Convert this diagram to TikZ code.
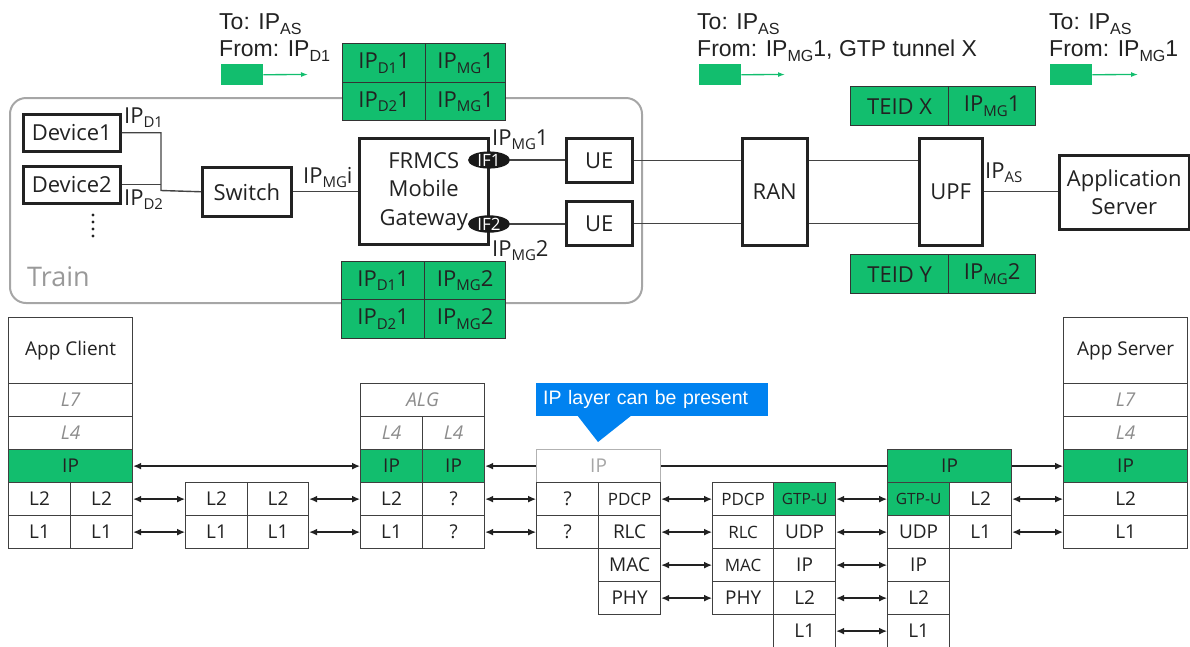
\documentclass[tikz,border=0pt]{standalone}
\usepackage{fontspec}
\usepackage{graphicx}
\setmainfont{Open Sans}
\newfontfamily\arialf{Liberation Sans}
\usetikzlibrary{arrows.meta,shapes.geometric,backgrounds}
\definecolor{egreen}{RGB}{18,190,110}
\definecolor{eblue}{RGB}{0,130,240}
\definecolor{txt}{RGB}{34,34,34}
\newcommand\lo[1]{\raisebox{-0.22em}{\scalebox{0.68}{#1}}}
\newcommand\loa[1]{\raisebox{-0.22em}{\scalebox{0.7}{#1}}}
\newcommand\fTop{\arialf\fontsize{23}{26}\selectfont}
\newcommand\fBox{\fontsize{22}{28.5}\selectfont}
\newcommand\fSt{\fontsize{19}{22}\selectfont}
\newcommand\fSm{\fontsize{17}{20}\selectfont}
\newcommand\fGt{\fontsize{15.5}{18}\selectfont}
\tikzset{
  box/.style={draw=txt, line width=2.5pt, fill=white, text=txt, font=\fBox, align=center, inner sep=0pt, anchor=north west},
  cell/.style={draw=black!75, line width=1.2pt, fill=white, text=txt, font=\fSt, inner sep=0pt, anchor=north west, minimum height=33pt},
  gcell/.style={cell, fill=egreen},
  ital/.style={text=black!45, font=\fSt\itshape},
  tcell/.style={draw=black!80, line width=1.3pt, fill=egreen, text=txt, font=\fBox, inner sep=0pt, anchor=north west},
  lbl/.style={text=txt, font=\fBox, inner sep=0pt, anchor=base west},
  toplbl/.style={text=txt, font=\fTop, inner sep=0pt, anchor=base west},
  pkt/.style={fill=egreen, inner sep=0pt, anchor=north west, minimum width=42pt, minimum height=21pt},
  pktarr/.style={draw=egreen, line width=1.3pt, -{Latex[length=7pt,width=5pt]}},
  dbl/.style={draw=txt, line width=1.3pt, {Latex[length=8pt,width=7pt]}-{Latex[length=8pt,width=7pt]}},
  sgl/.style={draw=txt, line width=1.3pt},
  ifnode/.style={ellipse, fill=black!90, text=white, font=\fontsize{17}{17}\selectfont, inner sep=0pt, minimum width=42pt, minimum height=16pt},
  conn/.style={draw=txt!85, line width=1.4pt}
}
\begin{document}
\begin{tikzpicture}[x=1pt,y=-1pt]
\useasboundingbox (0,0) rectangle (1190,646);
% ---------- train frame ----------
\draw[black!35, line width=2pt, rounded corners=16pt] (10,98) rectangle (642,303);
\node[lbl, text=black!40, font=\fontsize{27}{30}\selectfont] (train) at (27,286) {Train};
% ---------- packet labels ----------
\node[toplbl] (t1a) at (219,29) {To: IP\loa{AS}};
\node[toplbl] (t1b) at (219,56) {From: IP\loa{D1}};
\node[pkt] (pk1) at (221,64) {};
\coordinate (pe1) at (308,74.5);
\draw[pktarr] (pk1.east) -- (pe1);
\node[toplbl] (t2a) at (697,29) {To: IP\loa{AS}};
\node[toplbl] (t2b) at (697,56) {From: IP\loa{MG}1, GTP tunnel X};
\node[pkt] (pk2) at (699,64) {};
\coordinate (pe2) at (785,74.5);
\draw[pktarr] (pk2.east) -- (pe2);
\node[toplbl] (t3a) at (1049,29) {To: IP\loa{AS}};
\node[toplbl] (t3b) at (1049,56) {From: IP\loa{MG}1};
\node[pkt] (pk3) at (1050,64) {};
\coordinate (pe3) at (1138,74.5);
\draw[pktarr] (pk3.east) -- (pe3);
% ---------- green tables ----------
\node[tcell, minimum width=83pt, minimum height=39pt] (ta1) at (342,43) {IP\lo{D1}1};
\node[tcell, minimum width=80pt, minimum height=39pt] (ta2) at (425,43) {IP\lo{MG}1};
\node[tcell, minimum width=83pt, minimum height=38pt] (ta3) at (342,82) {IP\lo{D2}1};
\node[tcell, minimum width=80pt, minimum height=38pt] (ta4) at (425,82) {IP\lo{MG}1};
\node[tcell, minimum width=83pt, minimum height=38pt] (tb1) at (341,261) {IP\lo{D1}1};
\node[tcell, minimum width=81pt, minimum height=38pt] (tb2) at (424,261) {IP\lo{MG}2};
\node[tcell, minimum width=83pt, minimum height=39pt] (tb3) at (341,299) {IP\lo{D2}1};
\node[tcell, minimum width=81pt, minimum height=39pt] (tb4) at (424,299) {IP\lo{MG}2};
\node[tcell, minimum width=98pt, minimum height=39pt] (tx1) at (850,86) {TEID X};
\node[tcell, minimum width=87pt, minimum height=39pt] (tx2) at (948,86) {IP\lo{MG}1};
\node[tcell, minimum width=98pt, minimum height=39pt] (ty1) at (850,254) {TEID Y};
\node[tcell, minimum width=87pt, minimum height=39pt] (ty2) at (948,254) {IP\lo{MG}2};
% ---------- network boxes ----------
\node[box, minimum width=97pt, minimum height=37pt] (d1) at (22,113) {Device1};
\node[box, minimum width=97pt, minimum height=37pt] (d2) at (22,165) {Device2};
\foreach \yy in {215,222,229,236} \fill[txt] (93,\yy) circle (1.6pt);
\node[box, minimum width=89pt, minimum height=49pt] (sw) at (201,166) {Switch};
\node[box, minimum width=129pt, minimum height=106pt] (mg) at (358,137) {FRMCS\\Mobile\\Gateway};
\node[box, minimum width=66pt, minimum height=44pt] (ue1) at (565,137) {UE};
\node[box, minimum width=66pt, minimum height=44pt] (ue2) at (565,200) {UE};
\node[box, minimum width=65pt, minimum height=107pt] (ran) at (741,137) {RAN};
\node[box, minimum width=63pt, minimum height=107pt] (upf) at (918,137) {UPF};
\node[box, minimum width=130pt, minimum height=74pt] (as) at (1058,154) {Application\\Server};
\node[ifnode] (if1) at (489,160) {IF1};
\node[ifnode] (if2) at (489,224) {IF2};
% connectors
\coordinate (jn) at (161,190.5);
\draw[conn] (d1.east) -| (jn) -- (sw.west);
\draw[conn] (d2.east) -- (d2.east -| jn);
\draw[conn] (sw.east) -- (sw.east -| mg.west);
\draw[conn] (if1.east) -- (if1.east -| ue1.west);
\draw[conn] (if2.east) -- (if2.east -| ue2.west);
\draw[conn] (ue1.east) -- (ue1.east -| ran.west);
\draw[conn] (ue2.east) -- (ue2.east -| ran.west);
\draw[conn] (ran.east |- ue1.east) -- (upf.west |- ue1.east);
\draw[conn] (ran.east |- ue2.east) -- (upf.west |- ue2.east);
\draw[conn] (upf.east) -- (upf.east -| as.west);
% labels
\node[lbl] (lD1) at (124,123) {IP\lo{D1}};
\node[lbl] (lD2) at (124,205) {IP\lo{D2}};
\node[lbl] (lMGi) at (303,183) {IP\lo{MG}i};
\node[lbl] (lMG1) at (492,145) {IP\lo{MG}1};
\node[lbl] (lMG2) at (492,256) {IP\lo{MG}2};
\node[lbl] (lAS) at (985,178) {IP\lo{AS}};
% ---------- protocol stacks ----------
% App Client
\node[cell, minimum width=124pt, minimum height=66pt] (ac0) at (8,317) {App Client};
\node[cell, ital, minimum width=124pt] (ac7) at (8,383) {L7};
\node[cell, ital, minimum width=124pt] (ac4) at (8,416) {L4};
\node[gcell, minimum width=124pt] (acip) at (8,449) {IP};
\node[cell, minimum width=62pt] (ac2a) at (8,482) {L2};
\node[cell, minimum width=62pt] (ac2b) at (70,482) {L2};
\node[cell, minimum width=62pt] (ac1a) at (8,515) {L1};
\node[cell, minimum width=62pt] (ac1b) at (70,515) {L1};
% Bridge
\node[cell, minimum width=62pt] (b2a) at (185,482) {L2};
\node[cell, minimum width=61pt] (b2b) at (247,482) {L2};
\node[cell, minimum width=62pt] (b1a) at (185,515) {L1};
\node[cell, minimum width=61pt] (b1b) at (247,515) {L1};
% ALG
\node[cell, ital, minimum width=124pt] (alg) at (360,383) {ALG};
\node[cell, ital, minimum width=62pt] (g4a) at (360,416) {L4};
\node[cell, ital, minimum width=62pt] (g4b) at (422,416) {L4};
\node[gcell, minimum width=62pt] (gipa) at (360,449) {IP};
\node[gcell, minimum width=62pt] (gipb) at (422,449) {IP};
\node[cell, minimum width=62pt] (g2a) at (360,482) {L2};
\node[cell, minimum width=62pt] (g2b) at (422,482) {?};
\node[cell, minimum width=62pt] (g1a) at (360,515) {L1};
\node[cell, minimum width=62pt] (g1b) at (422,515) {?};
% Radio (UE side)
\node[cell, draw=black!30, text=black!35, minimum width=124pt] (rip) at (536,449) {IP};
\node[cell, minimum width=62pt] (rq2) at (536,482) {?};
\node[cell, font=\fSm, minimum width=62pt] (rpdcp) at (598,482) {PDCP};
\node[cell, minimum width=62pt] (rq1) at (536,515) {?};
\node[cell, minimum width=62pt] (rrlc) at (598,515) {RLC};
\node[cell, minimum width=62pt] (rmac) at (598,548) {MAC};
\node[cell, minimum width=62pt] (rphy) at (598,581) {PHY};
% gNB
\node[cell, font=\fSm, minimum width=61pt] (npdcp) at (712,482) {PDCP};
\node[gcell, font=\fGt, minimum width=62pt] (ngtp) at (773,482) {GTP-U};
\node[cell, font=\fSm, minimum width=61pt] (nrlc) at (712,515) {RLC};
\node[cell, minimum width=62pt] (nudp) at (773,515) {UDP};
\node[cell, font=\fSm, minimum width=61pt] (nmac) at (712,548) {MAC};
\node[cell, minimum width=62pt] (nip) at (773,548) {IP};
\node[cell, minimum width=61pt] (nphy) at (712,581) {PHY};
\node[cell, minimum width=62pt] (nl2) at (773,581) {L2};
\node[cell, minimum width=62pt] (nl1) at (773,614) {L1};
% UPF
\node[gcell, minimum width=124pt] (uip) at (887,449) {IP};
\node[gcell, font=\fGt, minimum width=62pt] (ugtp) at (887,482) {GTP-U};
\node[cell, minimum width=62pt] (ul2) at (949,482) {L2};
\node[cell, minimum width=62pt] (uudp) at (887,515) {UDP};
\node[cell, minimum width=62pt] (ul1) at (949,515) {L1};
\node[cell, minimum width=62pt] (uip2) at (887,548) {IP};
\node[cell, minimum width=62pt] (ul2b) at (887,581) {L2};
\node[cell, minimum width=62pt] (ul1b) at (887,614) {L1};
% App Server
\node[cell, minimum width=124pt, minimum height=66pt] (as0) at (1063,317) {App Server};
\node[cell, ital, minimum width=124pt] (as7) at (1063,383) {L7};
\node[cell, ital, minimum width=124pt] (as4) at (1063,416) {L4};
\node[gcell, minimum width=124pt] (asip) at (1063,449) {IP};
\node[cell, minimum width=124pt] (asl2) at (1063,482) {L2};
\node[cell, minimum width=124pt] (asl1) at (1063,515) {L1};
% callout
\node[fill=eblue, text=white, font=\arialf\fontsize{19.5}{22}\selectfont, anchor=north west, inner xsep=7pt, inner ysep=0pt, minimum height=33pt, text width=218pt, align=left] (callout) at (536,383) {IP layer can be present};
\fill[eblue] (577,415) -- (632,415) -- (598,442) -- cycle;
% stack arrows
\draw[dbl] (acip.east) -- (gipa.west);
\draw[dbl] (ac2b.east) -- (b2a.west);
\draw[dbl] (ac1b.east) -- (b1a.west);
\draw[dbl] (b2b.east) -- (g2a.west);
\draw[dbl] (b1b.east) -- (g1a.west);
\draw[dbl] (g2b.east) -- (rq2.west);
\draw[dbl] (g1b.east) -- (rq1.west);
\begin{scope}[on background layer]
\draw[sgl, {Latex[length=8pt,width=7pt]}-] (gipb.east) -- (uip.west);
\end{scope}
\draw[dbl] (rpdcp.east) -- (npdcp.west);
\draw[dbl] (rrlc.east) -- (nrlc.west);
\draw[dbl] (rmac.east) -- (nmac.west);
\draw[dbl] (rphy.east) -- (nphy.west);
\draw[dbl] (ngtp.east) -- (ugtp.west);
\draw[dbl] (nudp.east) -- (uudp.west);
\draw[dbl] (nip.east) -- (uip2.west);
\draw[dbl] (nl2.east) -- (ul2b.west);
\draw[dbl] (nl1.east) -- (ul1b.west);
\draw[dbl] (ul2.east) -- (asl2.west);
\draw[dbl] (ul1.east) -- (asl1.west);
\draw[sgl, -{Latex[length=8pt,width=7pt]}] (uip.east) -- (asip.west);
\end{tikzpicture}
\end{document}
